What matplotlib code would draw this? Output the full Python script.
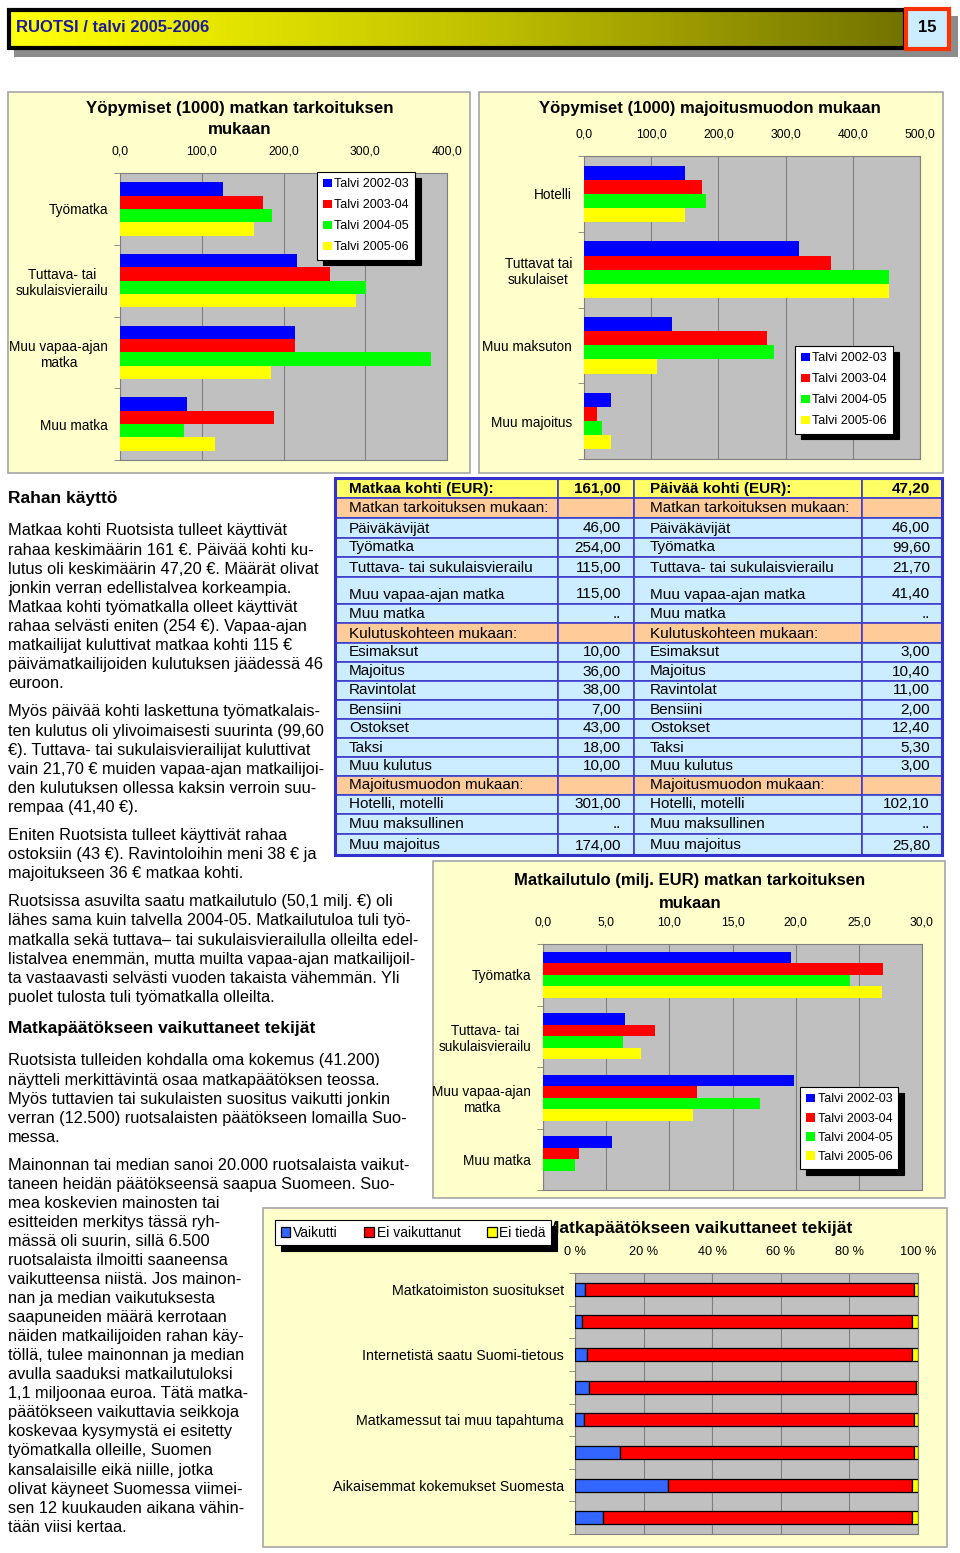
import matplotlib
matplotlib.use("Agg")
import matplotlib.pyplot as plt
import numpy as np
from matplotlib.patches import Rectangle
from matplotlib.colors import LinearSegmentedColormap
from matplotlib.ticker import FuncFormatter

plt.rcParams['font.family'] = ['Liberation Sans', 'DejaVu Sans']

W, H = 960, 1553

# ---- data ----
seasons = ['Talvi 2002-03', 'Talvi 2003-04', 'Talvi 2004-05', 'Talvi 2005-06']
season_colors = ['#0000FF', '#FF0000', '#00FF00', '#FFFF00']

purpose_cats = ['Työmatka', 'Tuttava- tai\nsukulaisvierailu', 'Muu vapaa-ajan\nmatka', 'Muu matka']
nights_purpose = [
    [126, 216, 214, 82],    # 2002-03
    [175, 257, 214, 188],   # 2003-04
    [186, 301, 381, 78],    # 2004-05
    [164, 289, 185, 116],   # 2005-06
]

lodging_cats = ['Hotelli', 'Tuttavat tai\nsukulaiset', 'Muu maksuton', 'Muu majoitus']
nights_lodging = [
    [150, 320, 131, 40],
    [176, 367, 272, 20],
    [181, 454, 283, 27],
    [151, 454, 109, 40],
]

income_purpose = [
    [19.6, 6.5, 19.9, 5.5],
    [26.9, 8.9, 12.2, 2.85],
    [24.3, 6.3, 17.2, 2.5],
    [26.8, 7.75, 11.9, 0.0],
]

factor_labels = ['Matkatoimiston suositukset', '', 'Internetistä saatu Suomi-tietous', '',
                 'Matkamessut tai muu tapahtuma', '', 'Aikaisemmat kokemukset Suomesta', '']
vaikutti = [2.9, 2.0, 3.5, 4.2, 2.6, 13.1, 27.0, 8.1]
ei_vaikuttanut = [95.9, 96.3, 94.8, 95.2, 96.2, 85.7, 71.3, 90.2]
ei_tieda = [1.2, 1.7, 1.7, 0.6, 1.2, 1.2, 1.7, 1.7]

trip_labels = ['Matkaa kohti (EUR):', 'Matkan tarkoituksen mukaan:', 'Päiväkävijät', 'Työmatka',
               'Tuttava- tai sukulaisvierailu', 'Muu vapaa-ajan matka', 'Muu matka',
               'Kulutuskohteen mukaan:', 'Esimaksut', 'Majoitus', 'Ravintolat', 'Bensiini',
               'Ostokset', 'Taksi', 'Muu kulutus', 'Majoitusmuodon mukaan:', 'Hotelli, motelli',
               'Muu maksullinen', 'Muu majoitus']
trip_values = ['161,00', '', '46,00', '254,00', '115,00', '115,00', '..', '', '10,00', '36,00',
               '38,00', '7,00', '43,00', '18,00', '10,00', '', '301,00', '..', '174,00']
day_labels = ['Päivää kohti (EUR):'] + trip_labels[1:]
day_values = ['47,20', '', '46,00', '99,60', '21,70', '41,40', '..', '', '3,00', '10,40',
              '11,00', '2,00', '12,40', '5,30', '3,00', '', '102,10', '..', '25,80']
row_kind = ['head', 'sec', 'item', 'item', 'item', 'item', 'item', 'sec', 'item', 'item', 'item',
            'item', 'item', 'item', 'item', 'sec', 'item', 'item', 'item']
row_heights = [20, 20, 20, 19, 20, 27, 19, 20, 19, 19, 19, 19, 19, 19, 19, 19, 19, 20, 21]

para_lines = [
    ['Matkaa kohti Ruotsista tulleet käyttivät',
     'rahaa keskimäärin 161 €. Päivää kohti ku-',
     'lutus oli keskimäärin 47,20 €. Määrät olivat',
     'jonkin verran edellistalvea korkeampia.',
     'Matkaa kohti työmatkalla olleet käyttivät',
     'rahaa selvästi eniten (254 €). Vapaa-ajan',
     'matkailijat kuluttivat matkaa kohti 115 €',
     'päivämatkailijoiden kulutuksen jäädessä 46',
     'euroon.'],
    ['Myös päivää kohti laskettuna työmatkalais-',
     'ten kulutus oli ylivoimaisesti suurinta (99,60',
     '€). Tuttava- tai sukulaisvierailijat kuluttivat',
     'vain 21,70 € muiden vapaa-ajan matkailijoi-',
     'den kulutuksen ollessa kaksin verroin suu-',
     'rempaa (41,40 €).'],
    ['Eniten Ruotsista tulleet käyttivät rahaa',
     'ostoksiin (43 €). Ravintoloihin meni 38 € ja',
     'majoitukseen 36 € matkaa kohti.'],
    ['Ruotsissa asuvilta saatu matkailutulo (50,1 milj. €) oli',
     'lähes sama kuin talvella 2004-05. Matkailutuloa tuli työ-',
     'matkalla sekä tuttava– tai sukulaisvierailulla olleilta edel-',
     'listalvea enemmän, mutta muilta vapaa-ajan matkailijoil-',
     'ta vastaavasti selvästi vuoden takaista vähemmän. Yli',
     'puolet tulosta tuli työmatkalla olleilta.'],
]
para2_lines = [
    ['Ruotsista tulleiden kohdalla oma kokemus (41.200)',
     'näytteli merkittävintä osaa matkapäätöksen teossa.',
     'Myös tuttavien tai sukulaisten suositus vaikutti jonkin',
     'verran (12.500) ruotsalaisten päätökseen lomailla Suo-',
     'messa.'],
    ['Mainonnan tai median sanoi 20.000 ruotsalaista vaikut-',
     'taneen heidän päätökseensä saapua Suomeen. Suo-',
     'mea koskevien mainosten tai',
     'esitteiden merkitys tässä ryh-',
     'mässä oli suurin, sillä 6.500',
     'ruotsalaista ilmoitti saaneensa',
     'vaikutteensa niistä. Jos mainon-',
     'nan ja median vaikutuksesta',
     'saapuneiden määrä kerrotaan',
     'näiden matkailijoiden rahan käy-',
     'töllä, tulee mainonnan ja median',
     'avulla saaduksi matkailutuloksi',
     '1,1 miljoonaa euroa. Tätä matka-',
     'päätökseen vaikuttavia seikkoja',
     'koskevaa kysymystä ei esitetty',
     'työmatkalla olleille, Suomen',
     'kansalaisille eikä niille, jotka',
     'olivat käyneet Suomessa viimei-',
     'sen 12 kuukauden aikana vähin-',
     'tään viisi kertaa.'],
]


def px_rect(x0, y0, x1, y1):
    return [x0 / W, 1 - y1 / H, (x1 - x0) / W, (y1 - y0) / H]


fig = plt.figure(figsize=(W / 100, H / 100), dpi=100)
fig.patch.set_facecolor('white')
bg = fig.add_axes([0, 0, 1, 1])
bg.set_xlim(0, W)
bg.set_ylim(H, 0)
bg.axis('off')

# header bar
bg.add_patch(Rectangle((14, 16), 944, 41, fc='#8C8C8C', ec='none', zorder=1))
hdr_cmap = LinearSegmentedColormap.from_list('hdr', [(0, '#FFFF10'), (0.12, '#F5F500'),
                                                     (0.55, '#BDBD00'), (1, '#737300')])
bg.imshow(np.linspace(0, 1, 256).reshape(1, -1), cmap=hdr_cmap, extent=(9, 905, 48, 10),
          aspect='auto', zorder=2)
bg.add_patch(Rectangle((9, 10), 896, 38, fc='none', ec='black', lw=3, zorder=3))
bg.add_patch(Rectangle((906, 9), 43, 40, fc='#CCECFF', ec='#FF3300', lw=3, zorder=3))
bg.text(16, 28, 'RUOTSI / talvi 2005-2006', fontsize=12, fontweight='bold', color='#1A1A9E',
        va='center', zorder=4)
bg.text(927, 28, '15', fontsize=12, fontweight='bold', color='black', va='center',
        ha='center', zorder=4)

# chart panels
panel_kw = dict(fc='#FFFFCC', ec='#A6A6A6', lw=1.2, zorder=1)
bg.add_patch(Rectangle((8, 92), 462, 381, **panel_kw))
bg.add_patch(Rectangle((479, 92), 464, 381, **panel_kw))
bg.add_patch(Rectangle((433, 861), 512, 337, **panel_kw))
bg.add_patch(Rectangle((263, 1208), 684, 339, **panel_kw))

# left text
bg.text(8, 498, 'Rahan käyttö', fontsize=12.5, fontweight='bold', va='center')
y = 531
for para in para_lines:
    for line in para:
        bg.text(8, y, line, fontsize=11.8, va='center')
        y += 19.1
    y += 9
bg.text(8, 1028, 'Matkapäätökseen vaikuttaneet tekijät', fontsize=12.5, fontweight='bold',
        va='center')
y = 1061
for para in para2_lines:
    for line in para:
        bg.text(8, y, line, fontsize=11.8, va='center')
        y += 19.05
    y += 9

# table
cols = [335, 558, 634, 862, 942]
fills = {'head': '#FFFF66', 'sec': '#FFCC99', 'item': '#CCECFF'}
top = 478
for i, h in enumerate(row_heights):
    fc = fills[row_kind[i]]
    for c in range(4):
        bg.add_patch(Rectangle((cols[c], top), cols[c + 1] - cols[c], h, fc=fc,
                               ec='#3F3FCC', lw=1.2, zorder=2))
    ty = top + h - 9.5
    fw = 'bold' if row_kind[i] == 'head' else 'normal'
    bg.text(cols[0] + 14, ty, trip_labels[i], fontsize=11, fontweight=fw, va='center', zorder=3)
    bg.text(cols[2] - 13, ty, trip_values[i], fontsize=11, fontweight=fw, va='center',
            ha='right', zorder=3)
    bg.text(cols[2] + 16, ty, day_labels[i], fontsize=11, fontweight=fw, va='center', zorder=3)
    bg.text(cols[4] - 12, ty, day_values[i], fontsize=11, fontweight=fw, va='center',
            ha='right', zorder=3)
    top += h
bg.add_patch(Rectangle((cols[0], 478), cols[4] - cols[0], top - 478, fc='none',
                       ec='#3333CC', lw=2.2, zorder=3))

comma_fmt = FuncFormatter(lambda v, p: f'{v:.1f}'.replace('.', ','))
shadow_kw = {'ox': 4, 'oy': -4, 'color': 'black', 'alpha': 1}


def season_chart(box, cats, series, xmax, xstep, legend_xy, spacing):
    ax = fig.add_axes(px_rect(*box))
    ax.set_facecolor('#C0C0C0')
    n = len(cats)
    yy = np.arange(n)
    bh = 0.186
    for j, vals in enumerate(series):
        ax.barh(yy + (j - 1.5) * bh, vals, height=bh, color=season_colors[j],
                label=seasons[j], zorder=3)
    ax.set_ylim(n - 0.5, -0.5)
    ax.set_xlim(0, xmax)
    ax.set_xticks(np.arange(0, xmax + xstep / 2, xstep))
    ax.xaxis.set_major_formatter(comma_fmt)
    ax.xaxis.tick_top()
    ax.tick_params(axis='x', length=0, pad=11, labelsize=8.8)
    ax.set_yticks(yy)
    ax.set_yticklabels(cats, fontsize=9.8)
    for t in ax.get_yticklabels():
        t.set_multialignment('center')
    ax.set_yticks(np.arange(-0.5, n), minor=True)
    ax.tick_params(axis='y', which='major', length=0, pad=8.5)
    ax.tick_params(axis='y', which='minor', length=4, color='#808080')
    ax.grid(axis='x', color='#808080', lw=0.8, zorder=1)
    for s in ax.spines.values():
        s.set_color('#808080')
    leg = ax.legend(loc='upper left', bbox_to_anchor=(legend_xy[0] / W, 1 - legend_xy[1] / H),
                    bbox_transform=fig.transFigure, borderaxespad=0, fancybox=False,
                    edgecolor='black', facecolor='white', framealpha=1, fontsize=9,
                    handlelength=0.7, handleheight=0.7, handletextpad=0.2,
                    labelspacing=spacing, borderpad=0.5, shadow=shadow_kw)
    leg.get_frame().set_linewidth(0.8)
    return ax


season_chart((120, 173, 447, 460), purpose_cats, nights_purpose, 400, 100, (317, 172), 0.72)
bg.text(240, 108, 'Yöpymiset (1000) matkan tarkoituksen', fontsize=12.2, fontweight='bold',
        ha='center', va='center')
bg.text(240, 130, 'mukaan', fontsize=12.2, fontweight='bold', ha='center', va='center')

season_chart((584, 156, 920, 459), lodging_cats, nights_lodging, 500, 100, (795, 346), 0.72)
bg.text(710, 108, 'Yöpymiset (1000) majoitusmuodon mukaan', fontsize=12, fontweight='bold',
        ha='center', va='center')

season_chart((543, 944, 922, 1190), purpose_cats, income_purpose, 30, 5, (800, 1087), 0.58)
bg.text(690, 881, 'Matkailutulo (milj. EUR) matkan tarkoituksen', fontsize=12,
        fontweight='bold', ha='center', va='center')
bg.text(690, 903, 'mukaan', fontsize=12, fontweight='bold', ha='center', va='center')

# bottom stacked chart (title partly hidden under the legend, as in the original)
bg.text(545, 1229, 'Matkapäätökseen vaikuttaneet tekijät', fontsize=12.5, fontweight='bold',
        ha='left', va='center')
ax = fig.add_axes(px_rect(575, 1273, 918, 1534))
ax.set_facecolor('#C0C0C0')
n = len(factor_labels)
yy = np.arange(n)
left = np.zeros(n)
for vals, col, lab in [(vaikutti, '#3366FF', 'Vaikutti'),
                       (ei_vaikuttanut, '#FF0000', 'Ei vaikuttanut'),
                       (ei_tieda, '#FFFF00', 'Ei tiedä')]:
    ax.barh(yy, vals, left=left, height=0.4, color=col, edgecolor='black', lw=0.9,
            label=lab, zorder=3)
    left = left + np.array(vals)
ax.set_ylim(n - 0.5, -0.5)
ax.set_xlim(0, 100)
ax.set_xticks(np.arange(0, 101, 20))
ax.xaxis.set_major_formatter(FuncFormatter(lambda v, p: f'{int(v)} %'))
ax.xaxis.tick_top()
ax.tick_params(axis='x', length=0, pad=11, labelsize=9.2)
ax.set_yticks(yy)
ax.set_yticklabels(factor_labels, fontsize=10.3)
ax.set_yticks(np.arange(-0.5, n), minor=True)
ax.tick_params(axis='y', which='major', length=0, pad=8)
ax.tick_params(axis='y', which='minor', length=4, color='#808080')
ax.grid(axis='x', color='#808080', lw=0.8, zorder=1)
for s in ax.spines.values():
    s.set_color('#808080')
leg = ax.legend(loc='upper left', bbox_to_anchor=(275 / W, 1 - 1220 / H),
                bbox_transform=fig.transFigure, borderaxespad=0, ncol=3, fancybox=False,
                edgecolor='black', facecolor='white', framealpha=1, fontsize=10,
                handlelength=0.7, handleheight=0.7, handletextpad=0.2, columnspacing=1.9,
                borderpad=0.4, shadow=shadow_kw)
leg.get_frame().set_linewidth(0.8)
for patch in leg.get_patches():
    patch.set_edgecolor('black')

fig.savefig('out.png', dpi=100)
